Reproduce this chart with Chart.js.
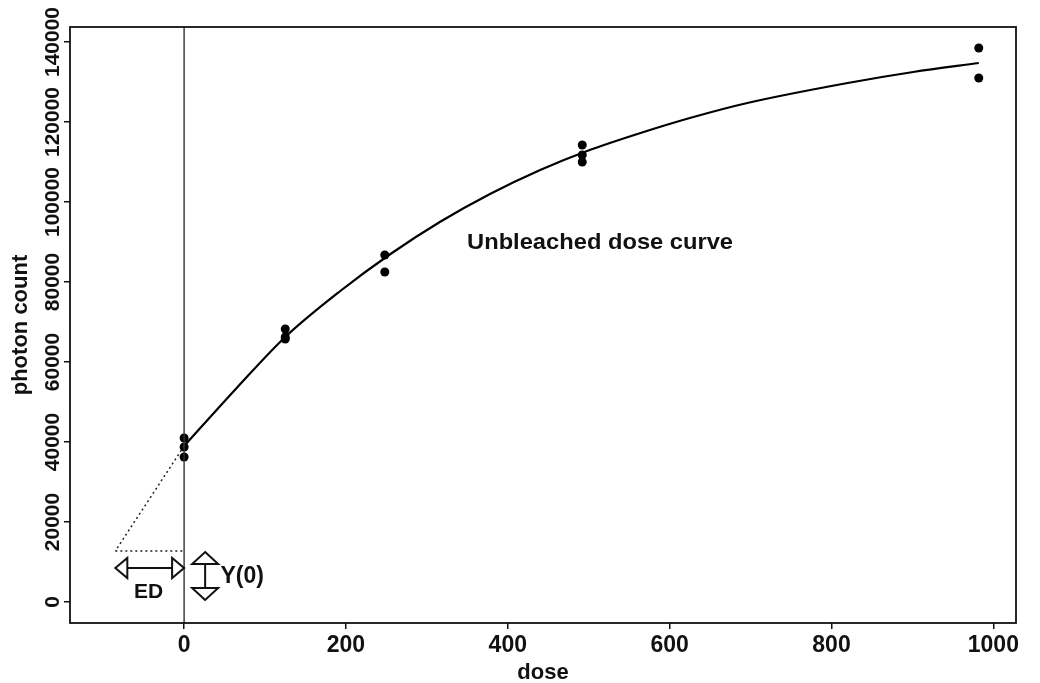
<!DOCTYPE html>
<html>
<head>
<script src="https://cdn.jsdelivr.net/npm/chart.js"></script>
<style>
  html, body { margin: 0; padding: 0; background: #fff; }
  #wrap { width: 1040px; height: 683px; }
</style>
</head>
<body>
<div id="wrap"><canvas id="doseChart" width="1040" height="683"></canvas></div>
<script>
// measured photon counts (several aliquots per dose)
const pointDose  = [0, 0, 0, 125, 125, 125, 248, 248, 492, 492, 492, 982, 982];
const pointCount = [41000, 38750, 36250, 68250, 66250, 65750, 86750, 82500, 114250, 111750, 110000, 138500, 131000];

// fitted dose response curve
const curveDose  = [0, 65, 125, 193, 255, 316, 378, 440, 498, 564, 625, 696, 820, 901, 982];
const curveCount = [39000, 53500, 66250, 77750, 87000, 95000, 102000, 108000, 112750, 117250, 121000, 124750, 129750, 132500, 134750];

// dotted back-extrapolation and its base line
const extrapDose  = [0, -85];
const extrapCount = [39000, 12750];
const baseDose    = [-85, 0];
const baseCount   = [12750, 12750];

const xTicks = [0, 200, 400, 600, 800, 1000];
const yTicks = [0, 20000, 40000, 60000, 80000, 100000, 120000, 140000];
const xRange = [-141, 1028];
const yRange = [-5250, 143750];

// annotation anchors, in axis units
const edArrow = { from: -85, to: 0, at: 8500 };
const y0Arrow = { dose: 26, from: 12500, to: 500 };
const edLabel = { dose: -44, count: 2500, text: 'ED' };
const y0Label = { dose: 45, count: 6250, text: 'Y(0)' };
const curveLabel = { dose: 514, count: 89750, text: 'Unbleached dose curve' };

const FONT = "'Liberation Sans', Arial, sans-serif";
const toXY = (xs, ys) => xs.map((v, i) => ({ x: v, y: ys[i] }));

// open triangular arrow head, tip at (tx, ty) pointing along (dx, dy)
function openHead(ctx, tx, ty, dx, dy, half) {
  const L = 12;
  const bx = tx - dx * L, by = ty - dy * L;
  ctx.beginPath();
  ctx.moveTo(tx, ty);
  ctx.lineTo(bx - dy * half, by + dx * half);
  ctx.lineTo(bx + dy * half, by - dx * half);
  ctx.closePath();
  ctx.fillStyle = '#fff';
  ctx.fill();
  ctx.stroke();
}

const overlay = {
  id: 'overlay',
  afterDatasetsDraw(chart) {
    const { ctx, chartArea: a, scales: { x, y } } = chart;
    ctx.save();
    ctx.strokeStyle = '#111';
    ctx.lineWidth = 1.8;
    ctx.strokeRect(a.left, a.top, a.width, a.height);

    // ED arrow
    const ex1 = x.getPixelForValue(edArrow.from), ex2 = x.getPixelForValue(edArrow.to);
    const ey = y.getPixelForValue(edArrow.at);
    ctx.lineWidth = 2;
    ctx.beginPath(); ctx.moveTo(ex1 + 12, ey); ctx.lineTo(ex2 - 12, ey); ctx.stroke();
    openHead(ctx, ex1, ey, -1, 0, 10);
    openHead(ctx, ex2, ey, 1, 0, 10);

    // Y(0) arrow
    const yx = x.getPixelForValue(y0Arrow.dose);
    const yy1 = y.getPixelForValue(y0Arrow.from), yy2 = y.getPixelForValue(y0Arrow.to);
    ctx.beginPath(); ctx.moveTo(yx, yy1 + 12); ctx.lineTo(yx, yy2 - 12); ctx.stroke();
    openHead(ctx, yx, yy1, 0, -1, 13);
    openHead(ctx, yx, yy2, 0, 1, 13);

    ctx.fillStyle = '#111';
    ctx.textBaseline = 'middle';
    ctx.font = 'bold 21px ' + FONT;
    ctx.textAlign = 'center';
    ctx.fillText(edLabel.text, x.getPixelForValue(edLabel.dose), y.getPixelForValue(edLabel.count));
    ctx.font = 'bold 23px ' + FONT;
    ctx.textAlign = 'left';
    ctx.fillText(y0Label.text, x.getPixelForValue(y0Label.dose), y.getPixelForValue(y0Label.count));

    // curve label, widened a little like the printed figure
    ctx.font = 'bold 22px ' + FONT;
    ctx.textAlign = 'center';
    const w = ctx.measureText(curveLabel.text).width;
    ctx.save();
    ctx.translate(x.getPixelForValue(curveLabel.dose), y.getPixelForValue(curveLabel.count));
    ctx.scale(266 / w, 1);
    ctx.fillText(curveLabel.text, 0, 0);
    ctx.restore();

    // y tick labels run along the axis
    ctx.font = 'bold 21px ' + FONT;
    for (const t of y.ticks) {
      ctx.save();
      ctx.translate(a.left - 17, y.getPixelForValue(t.value));
      ctx.rotate(-Math.PI / 2);
      ctx.fillText(String(t.value), 0, 0);
      ctx.restore();
    }
    ctx.restore();
  }
};

new Chart(document.getElementById('doseChart'), {
  type: 'scatter',
  data: {
    datasets: [{
      data: toXY([0, 0], yRange),
      showLine: true,
      borderColor: '#333',
      borderWidth: 1.4,
      pointRadius: 0
    }, {
      data: toXY(extrapDose, extrapCount),
      showLine: true,
      borderColor: '#222',
      borderWidth: 1.5,
      borderDash: [2, 3],
      pointRadius: 0
    }, {
      data: toXY(baseDose, baseCount),
      showLine: true,
      borderColor: '#222',
      borderWidth: 1.5,
      borderDash: [2, 3],
      pointRadius: 0
    }, {
      data: toXY(curveDose, curveCount),
      showLine: true,
      borderColor: '#000',
      borderWidth: 2.2,
      cubicInterpolationMode: 'monotone',
      pointRadius: 0
    }, {
      data: toXY(pointDose, pointCount),
      backgroundColor: '#000',
      borderWidth: 0,
      pointRadius: 4.5
    }]
  },
  options: {
    responsive: false,
    animation: false,
    devicePixelRatio: 1,
    layout: { padding: { top: 27, right: 24, left: 0, bottom: 0 } },
    plugins: { legend: { display: false }, tooltip: { enabled: false } },
    scales: {
      x: {
        type: 'linear',
        min: xRange[0], max: xRange[1],
        afterBuildTicks: s => { s.ticks = xTicks.map(v => ({ value: v })); },
        afterFit: s => { s.height = 60; },
        grid: { drawOnChartArea: false, tickLength: 6, color: '#111', lineWidth: 1.5 },
        border: { display: false },
        ticks: {
          color: '#111', padding: 3, maxRotation: 0,
          font: { family: FONT, size: 23, weight: 'bold' },
          callback: v => String(v)
        },
        title: { display: true, text: 'dose', color: '#111', padding: { top: 0, bottom: -3 }, font: { family: FONT, size: 22, weight: 'bold' } }
      },
      y: {
        type: 'linear',
        min: yRange[0], max: yRange[1],
        afterBuildTicks: s => { s.ticks = yTicks.map(v => ({ value: v })); },
        afterFit: s => { s.width = 70; },
        grid: { drawOnChartArea: false, tickLength: 6, color: '#111', lineWidth: 1.5 },
        border: { display: false },
        ticks: { color: 'rgba(0,0,0,0)', font: { family: FONT, size: 21 } },
        title: { display: true, text: 'photon count', color: '#111', padding: 8, font: { family: FONT, size: 22, weight: 'bold' } }
      }
    }
  },
  plugins: [overlay]
});
</script>
</body>
</html>
